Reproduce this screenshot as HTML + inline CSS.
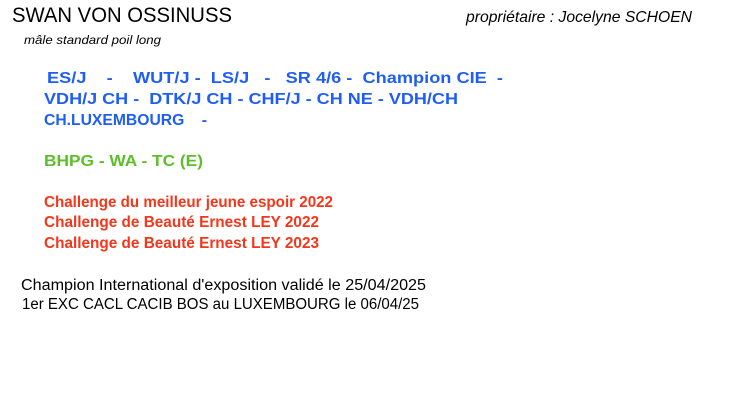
<!DOCTYPE html>
<html><head><meta charset="utf-8"><style>
html,body{margin:0;padding:0;background:#fff;width:756px;height:416px;overflow:hidden}
svg{display:block}
text{font-family:"Liberation Sans",sans-serif}
.b{fill:#1f5ef5;font-weight:bold;font-size:15.5px}
.g{fill:#5cbf2a;font-weight:bold;font-size:15.5px}
.r{fill:#f5361a;font-weight:bold;font-size:15.5px}
.k{fill:#000;font-size:15.5px}
</style></head><body>
<svg width="756" height="416" viewBox="0 0 756 416">
<text x="12" y="22" font-size="21" textLength="220" lengthAdjust="spacingAndGlyphs">SWAN VON OSSINUSS</text>
<text x="466" y="22" font-size="16" font-style="italic" textLength="226" lengthAdjust="spacingAndGlyphs">propriétaire : Jocelyne SCHOEN</text>
<text x="24" y="44" font-size="12" font-style="italic" textLength="137" lengthAdjust="spacingAndGlyphs">mâle standard poil long</text>
<text class="b" x="47" y="83" textLength="456" lengthAdjust="spacingAndGlyphs" xml:space="preserve">ES/J    -    WUT/J -  LS/J   -   SR 4/6 -  Champion CIE  -</text>
<text class="b" x="44" y="104" textLength="414" lengthAdjust="spacingAndGlyphs" xml:space="preserve">VDH/J CH -  DTK/J CH - CHF/J - CH NE - VDH/CH</text>
<text class="b" x="44" y="125" textLength="163" lengthAdjust="spacingAndGlyphs" xml:space="preserve">CH.LUXEMBOURG    -</text>
<text class="g" x="44" y="166" textLength="159" lengthAdjust="spacingAndGlyphs">BHPG - WA - TC (E)</text>
<text class="r" x="44" y="207" textLength="289" lengthAdjust="spacingAndGlyphs">Challenge du meilleur jeune espoir 2022</text>
<text class="r" x="44" y="227" textLength="275" lengthAdjust="spacingAndGlyphs">Challenge de Beauté Ernest LEY 2022</text>
<text class="r" x="44" y="248" textLength="275" lengthAdjust="spacingAndGlyphs">Challenge de Beauté Ernest LEY 2023</text>
<text class="k" x="21" y="290" textLength="405" lengthAdjust="spacingAndGlyphs">Champion International d'exposition validé le 25/04/2025</text>
<text class="k" x="22" y="309" textLength="397" lengthAdjust="spacingAndGlyphs">1er EXC CACL CACIB BOS au LUXEMBOURG le 06/04/25</text>
</svg>
</body></html>
